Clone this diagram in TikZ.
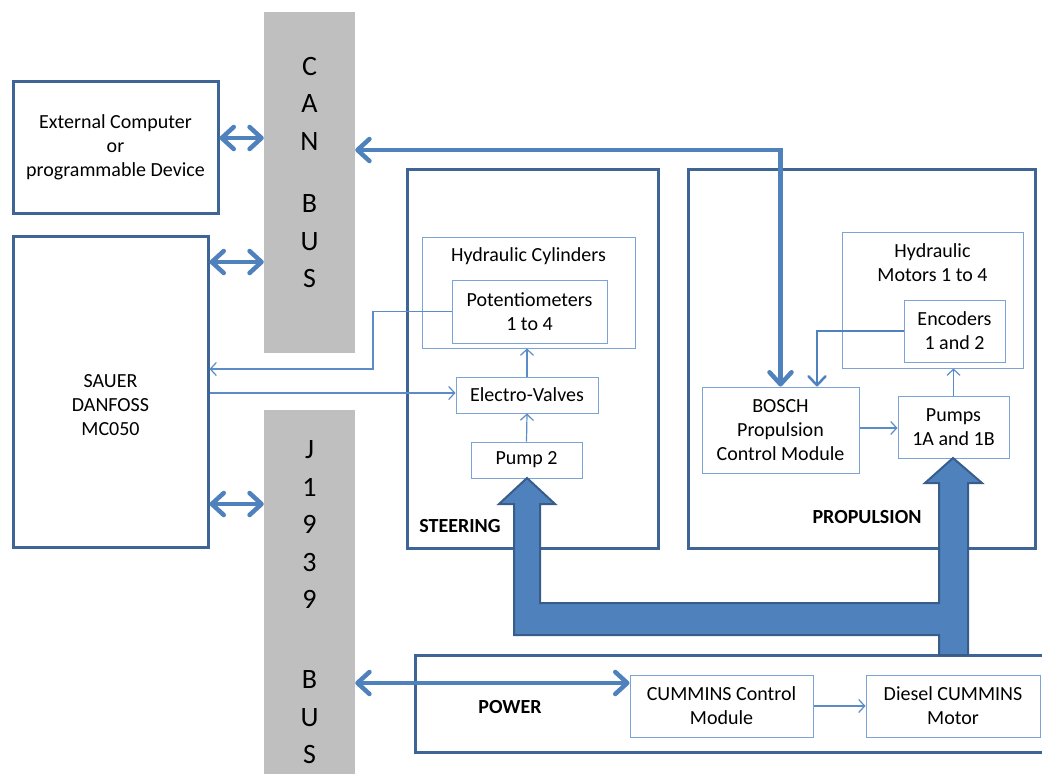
\documentclass[tikz,border=0pt]{standalone}
\usepackage{fontspec}
\setmainfont{Carlito}
\usepackage{tikz}
\usetikzlibrary{arrows.meta}
\definecolor{darkframe}{HTML}{3E6595}
\definecolor{lightframe}{HTML}{7BA3D6}
\definecolor{thinblue}{HTML}{5B8CC8}
\definecolor{busblue}{HTML}{4F81BD}
\definecolor{flowedge}{HTML}{385D8A}
\definecolor{busgray}{HTML}{BFBFBF}

\begin{document}
\begin{tikzpicture}[x = 1pt, y = -1pt, font = \fontsize{20}{24}\selectfont,
    frame/.style = {rectangle, draw = darkframe, line width = 3pt, inner sep = 0pt},
    unit/.style = {rectangle, draw = lightframe, line width = 1pt, inner sep = 0pt, align = center},
    busbar/.style = {rectangle, fill = busgray, inner sep = 0pt, minimum width = 91pt},
    busletters/.style = {align = center, inner sep = 0pt, font = \fontsize{28}{37.5}\selectfont},
    busline/.style = {draw = busblue, line width = 4.5pt,
        {Straight Barb[length = 12pt, width = 22pt, round]}-{Straight Barb[length = 12pt, width = 22pt, round]}},
    sideline/.style = {draw = busblue, line width = 2.5pt, -{Straight Barb[length = 9pt, width = 17pt, round]}},
    thinline/.style = {draw = thinblue, line width = 1.2pt, -{Straight Barb[length = 6pt, width = 13pt]}},
    flow/.style = {fill = busblue, draw = flowedge, line width = 2pt, line join = miter},
    title/.style = {inner sep = 0pt, font = \fontsize{20}{24}\selectfont\bfseries}]
\useasboundingbox (0,0) rectangle (1042,774);

% buses
\draw (309.5,182.5) node[busbar, minimum height = 341pt](canbus){}
    (309.5,595) node[busbar, minimum height = 370pt](jbus){};
\node[busletters] (cantext) at (309.5,172.5) {C\\A\\N\\[25pt]B\\U\\S};
\node[busletters] (jtext) at (309.5,602.5) {J\\1\\9\\3\\9\\[42.5pt]B\\U\\S};

% outer blocks
\draw (115.5,147) node[frame, minimum width = 205pt, minimum height = 132pt, align = center](ext)
        {External Computer\\or\\programmable Device}
    (110.5,391.5) node[frame, minimum width = 195pt, minimum height = 311pt](sauer){}
    (532.5,358.5) node[frame, minimum width = 251pt, minimum height = 379pt](steer){}
    (861.5,358.5) node[frame, minimum width = 347pt, minimum height = 379pt](prop){}
    (737.5,703.5) node[frame, minimum width = 645pt, minimum height = 97pt](power){};
\node[align = center, inner sep = 0pt] (sauertxt) at (110.5,405) {SAUER\\DANFOSS\\MC050};
\node[title] (steertxt) at (460,526) {STEERING};
\node[title] (proptxt) at (867,517) {PROPULSION};
\node[title] (powertxt) at (510,707) {POWER};

% steering
\draw (528.5,292.5) node[unit, minimum width = 213pt, minimum height = 111pt](hcyl){}
    (529.5,311.5) node[unit, minimum width = 155pt, minimum height = 63pt](pot){Potentiometers\\1 to 4}
    (527,395) node[unit, minimum width = 142pt, minimum height = 36pt](ev){Electro-Valves}
    (526.5,460) node[unit, minimum width = 111pt, minimum height = 36pt](pump2){Pump 2};
\node[inner sep = 0pt] (hcyltxt) at (528.5,256) {Hydraulic Cylinders};

% propulsion
\draw (932.5,300) node[unit, minimum width = 181pt, minimum height = 136pt](hmot){}
    (954.5,331) node[unit, minimum width = 101pt, minimum height = 62pt](enc){Encoders\\1 and 2}
    (780.5,430) node[unit, minimum width = 157pt, minimum height = 86pt](bosch){BOSCH\\Propulsion\\Control Module}
    (953.5,427) node[unit, minimum width = 111pt, minimum height = 62pt](pumps){Pumps\\1A and 1B};
\node[align = center, inner sep = 0pt] (hmottxt) at (932.5,262.5) {Hydraulic\\Motors 1 to 4};

% power
\draw (721.5,706) node[unit, minimum width = 183pt, minimum height = 62pt](ccm){CUMMINS Control\\Module}
    (953,706) node[unit, minimum width = 174pt, minimum height = 62pt](diesel){Diesel CUMMINS\\Motor};

% bus links
\draw [busline] (ext.east |- 0,138) -- (canbus.west |- 0,138);
\draw [busline] (sauer.east |- 0,262) -- (canbus.west |- 0,262);
\draw [busline] (sauer.east |- 0,504) -- (jbus.west |- 0,504);
\draw [busline] (canbus.east |- 0,150) -| (bosch.north);
\draw [busline] (jbus.east |- 0,683) -- (ccm.west |- 0,683);
\draw [sideline] (enc.west) -| (bosch.north -| 817,0);

% signal links
\draw [thinline] (pump2.north) -- (ev.south);
\draw [thinline] (ev.north) -- (ev.north |- hcyl.south);
\draw [thinline] (pot.west) -- (pot.west -| 373,0) |- (sauer.east |- 0,369);
\draw [thinline] (sauer.east |- 0,393) -- (ev.west |- 0,393);
\draw [thinline] (bosch.east |- 0,428) -- (pumps.west |- 0,428);
\draw [thinline] (pumps.north) -- (pumps.north |- hmot.south);
\draw [thinline] (ccm.east) -- (diesel.west);

% hydraulic power flow
\draw [flow] (953,458) -- (982,483) -- (968,483) -- (968,655) -- (939,655) -- (939,635)
    -- (514,635) -- (514,504) -- (499,504) -- (527,478) -- (555,504) -- (540,504)
    -- (540,603) -- (939,603) -- (939,483) -- (925,483) -- cycle;
\end{tikzpicture}
\end{document}
